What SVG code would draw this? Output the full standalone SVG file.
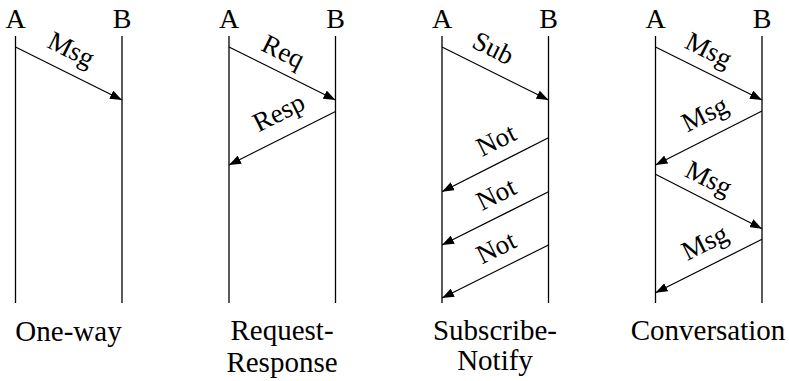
<svg xmlns="http://www.w3.org/2000/svg" width="789" height="381" viewBox="0 0 789 381">
  <defs>
    <marker id="ah" markerUnits="userSpaceOnUse" markerWidth="13" markerHeight="9" refX="12" refY="4.5" orient="auto">
      <path d="M0,0 L12,4.5 L0,9 z" fill="#000"/>
    </marker>
  </defs>
  <style>
    .life { stroke: #000; stroke-width: 1.3; fill: none; }
    .msg { stroke: #000; stroke-width: 1.2; fill: none; marker-end: url(#ah); }
    .t { font-family: "Liberation Serif", "Times New Roman", serif; font-size: 28px; fill: #000; text-anchor: middle; }
    .title { font-family: "Liberation Serif", "Times New Roman", serif; font-size: 29px; fill: #000; text-anchor: middle; }
    .lbl { font-family: "Liberation Serif", "Times New Roman", serif; font-size: 27px; fill: #000; text-anchor: middle; }
  </style>
  <rect width="789" height="381" fill="#fff"/>

  <!-- Panel 1: One-way -->
  <g id="p1-A"><line class="life" x1="15.5" y1="36" x2="15.5" y2="303"/><text class="t" x="15.5" y="28">A</text></g>
  <g id="p1-B"><line class="life" x1="122" y1="36" x2="122" y2="303"/><text class="t" x="122" y="28">B</text></g>
  <g id="p1-title"><text class="title" x="68.5" y="341">One-way</text></g>

  <!-- Panel 2: Request-Response -->
  <g id="p2-A"><line class="life" x1="229" y1="36" x2="229" y2="303"/><text class="t" x="229" y="28">A</text></g>
  <g id="p2-B"><line class="life" x1="335.5" y1="36" x2="335.5" y2="303"/><text class="t" x="335.5" y="28">B</text></g>
  <g id="p2-title"><text class="title" x="282" y="340">Request-</text><text class="title" x="282" y="371.5">Response</text></g>

  <!-- Panel 3: Subscribe-Notify -->
  <g id="p3-A"><line class="life" x1="442" y1="36" x2="442" y2="303"/><text class="t" x="442" y="28">A</text></g>
  <g id="p3-B"><line class="life" x1="548.5" y1="36" x2="548.5" y2="303"/><text class="t" x="548.5" y="28">B</text></g>
  <g id="p3-title"><text class="title" x="495" y="340">Subscribe-</text><text class="title" x="495" y="370">Notify</text></g>

  <!-- Panel 4: Conversation -->
  <g id="p4-A"><line class="life" x1="655.5" y1="36" x2="655.5" y2="303"/><text class="t" x="655.5" y="28">A</text></g>
  <g id="p4-B"><line class="life" x1="762" y1="36" x2="762" y2="303"/><text class="t" x="762" y="28">B</text></g>
  <g id="p4-title"><text class="title" x="708" y="340">Conversation</text></g>

  <!-- Connectors -->
  <g id="connectors">
    <line class="msg" x1="15.5" y1="47" x2="122" y2="100"/>
    <text class="lbl" transform="translate(70,52) rotate(26.57)" y="6">Msg</text>

    <line class="msg" x1="229" y1="47" x2="335.5" y2="100"/>
    <text class="lbl" transform="translate(282,54) rotate(26.57)" y="6">Req</text>
    <line class="msg" x1="335.5" y1="111.5" x2="229" y2="165"/>
    <text class="lbl" transform="translate(280,115) rotate(-26.57)" y="6">Resp</text>

    <line class="msg" x1="442" y1="47" x2="548.5" y2="100"/>
    <text class="lbl" transform="translate(493.3,48) rotate(26.57)" y="9">Sub</text>
    <line class="msg" x1="548.5" y1="137.7" x2="442" y2="191.7"/>
    <text class="lbl" transform="translate(496,140) rotate(-26.57)" y="9">Not</text>
    <line class="msg" x1="548.5" y1="191.7" x2="442" y2="245"/>
    <text class="lbl" transform="translate(496,194) rotate(-26.57)" y="9">Not</text>
    <line class="msg" x1="548.5" y1="245" x2="442" y2="298"/>
    <text class="lbl" transform="translate(496,247.5) rotate(-26.57)" y="9">Not</text>

    <line class="msg" x1="655.5" y1="47" x2="762" y2="100"/>
    <text class="lbl" transform="translate(707.5,52.5) rotate(26.57)" y="6">Msg</text>
    <line class="msg" x1="762" y1="111" x2="655.5" y2="165"/>
    <text class="lbl" transform="translate(706,116.5) rotate(-26.57)" y="6">Msg</text>
    <line class="msg" x1="655.5" y1="174.3" x2="762" y2="228.7"/>
    <text class="lbl" transform="translate(707.5,181) rotate(26.57)" y="6">Msg</text>
    <line class="msg" x1="762" y1="239.3" x2="655.5" y2="292.7"/>
    <text class="lbl" transform="translate(706,245) rotate(-26.57)" y="6">Msg</text>
  </g>
</svg>
